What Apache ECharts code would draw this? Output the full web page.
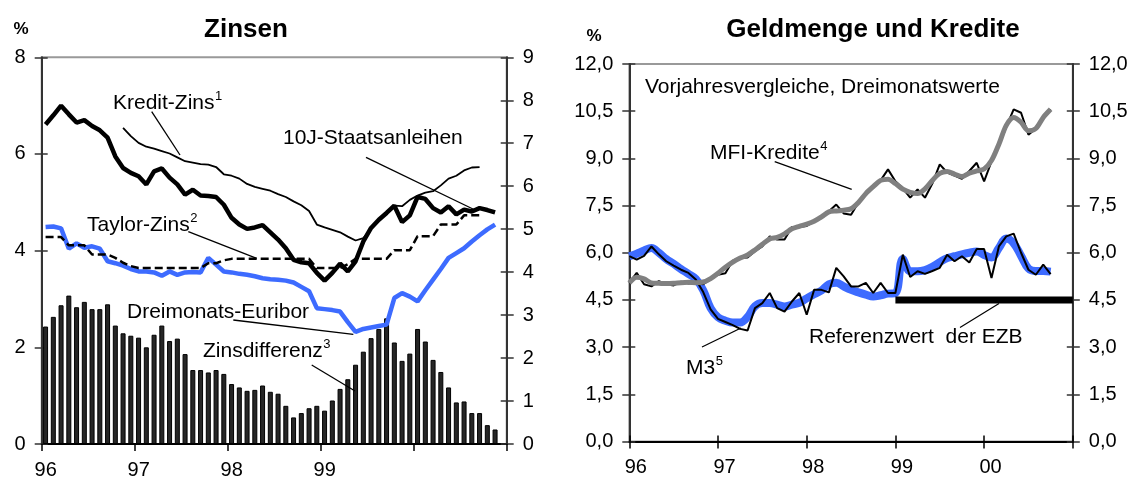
<!DOCTYPE html>
<html>
<head>
<meta charset="utf-8">
<script src="https://cdn.jsdelivr.net/npm/echarts@6/dist/echarts.min.js"></script>
<style>
html, body { margin: 0; padding: 0; background: #fff; }
#chart { width: 1141px; height: 483px; }
</style>
</head>
<body>
<div id="chart"></div>
<script>
// Jahresbeschriftung der x-Achsen (Monatsindex 0 = Jan 96, 12 = Jan 97 ...)
const yearsLeft = ['96', '97', '98', '99', '', '']
const yearsRight = ['96', '97', '98', '99', '00', '']

// Zinsen: Monatswerte Jan 96 - Nov 00
const zinsdifferenz = [2.43, 2.63, 2.87, 3.07, 2.83, 2.94, 2.79, 2.79, 2.89, 2.45,
  2.29, 2.24, 2.20, 2.00, 2.26, 2.45, 2.13, 2.18, 1.86, 1.53,
  1.53, 1.48, 1.53, 1.45, 1.24, 1.17, 1.10, 1.12, 1.21, 1.08,
  1.04, 0.79, 0.55, 0.64, 0.74, 0.79, 0.69, 0.90, 1.14, 1.34,
  1.64, 1.91, 2.19, 2.38, 2.60, 2.10, 1.72, 1.87, 2.38, 2.12,
  1.74, 1.49, 1.17, 0.86, 0.88, 0.64, 0.64, 0.39, 0.30]
const staatsanleihen = [6.61, 6.80, 7.00, 6.82, 6.65, 6.70, 6.58, 6.49, 6.34, 5.95,
  5.71, 5.61, 5.54, 5.37, 5.64, 5.70, 5.51, 5.37, 5.16, 5.26,
  5.14, 5.13, 5.11, 4.95, 4.68, 4.54, 4.45, 4.48, 4.53, 4.38,
  4.23, 4.05, 3.81, 3.76, 3.74, 3.54, 3.38, 3.54, 3.73, 3.57,
  3.78, 4.19, 4.47, 4.64, 4.78, 4.93, 4.59, 4.73, 5.11, 5.07,
  4.88, 4.79, 4.92, 4.75, 4.85, 4.81, 4.88, 4.84, 4.79]
const kreditZins = [null, null, null, null, null, null, null, null, null, null,
  6.54, 6.37, 6.23, 6.15, 6.11, 6.06, 6.01, 5.93, 5.85, 5.82,
  5.79, 5.78, 5.73, 5.58, 5.55, 5.49, 5.38, 5.32, 5.28, 5.24,
  5.17, 5.11, 5.02, 4.94, 4.82, 4.54, 4.48, 4.43, 4.38, 4.29,
  4.21, 4.26, 4.45, 4.62, 4.80, 4.93, 4.92, 5.05, 5.14, 5.20,
  5.23, 5.35, 5.49, 5.55, 5.66, 5.72, 5.73, null, null]
const taylorZins = [4.28, 4.28, 4.28, 4.11, 4.11, 4.11, 3.92, 3.92, 3.92, 3.85,
  3.75, 3.68, 3.64, 3.64, 3.64, 3.64, 3.64, 3.64, 3.64, 3.64,
  3.64, 3.74, 3.74, 3.80, 3.83, 3.83, 3.83, 3.83, 3.83, 3.83,
  3.83, 3.83, 3.83, 3.83, 3.83, 3.64, 3.64, 3.64, 3.64, 3.72,
  3.83, 3.83, 3.83, 3.83, 3.83, 4.01, 4.01, 4.01, 4.30, 4.30,
  4.30, 4.54, 4.54, 4.54, 4.73, 4.73, 4.73, null, null]
const euribor = [4.49, 4.50, 4.46, 4.04, 4.15, 4.06, 4.09, 4.04, 3.78, 3.74,
  3.69, 3.62, 3.57, 3.57, 3.55, 3.48, 3.57, 3.50, 3.55, 3.56,
  3.55, 3.85, 3.71, 3.57, 3.55, 3.52, 3.50, 3.47, 3.43, 3.41,
  3.40, 3.38, 3.34, 3.25, 3.16, 2.81, 2.79, 2.77, 2.74, 2.52,
  2.32, 2.38, 2.41, 2.44, 2.47, 3.02, 3.12, 3.05, 2.95, 3.18,
  3.40, 3.62, 3.85, 3.95, 4.05, 4.19, 4.32, 4.44, 4.54]

// Geldmenge und Kredite: Monatswerte Jan 96 - Okt 00
const m3 = [5.89, 5.78, 5.90, 6.20, 5.95, 5.73, 5.59, 5.46, 5.36, 5.15,
  4.75, 4.20, 3.90, 3.80, 3.70, 3.58, 3.53, 4.24, 4.40, 4.72,
  4.24, 4.13, 4.45, 4.72, 4.03, 4.82, 4.82, 4.74, 5.52, 5.25,
  4.93, 4.93, 5.04, 4.72, 5.04, 4.72, 4.72, 5.94, 5.23, 5.41,
  5.33, 5.42, 5.52, 5.94, 5.73, 5.89, 5.69, 6.12, 6.12, 5.20,
  6.20, 6.52, 6.61, 6.00, 5.46, 5.30, 5.62, 5.32]
const m3Glatt = [5.89, 5.97, 6.07, 6.15, 6.00, 5.80, 5.65, 5.48, 5.33, 5.17,
  4.81, 4.24, 3.95, 3.84, 3.78, 3.78, 3.96, 4.30, 4.40, 4.40,
  4.35, 4.29, 4.35, 4.41, 4.55, 4.68, 4.80, 5.00, 5.05, 4.93,
  4.82, 4.74, 4.67, 4.61, 4.65, 4.70, 4.72, 5.80, 5.41, 5.41,
  5.45, 5.55, 5.70, 5.83, 5.89, 5.95, 6.00, 6.04, 5.93, 5.85,
  6.15, 6.45, 6.30, 5.90, 5.50, 5.42, 5.42, 5.40]
const mfiKredite = [5.04, 5.36, 5.00, 4.93, 5.10, 5.00, 4.96, 5.08, 5.02, 5.04,
  5.00, 5.15, 5.30, 5.35, 5.75, 5.84, 5.85, 6.05, 6.20, 6.52,
  6.42, 6.42, 6.82, 6.82, 6.85, 7.00, 7.10, 7.32, 7.53, 7.25,
  7.21, 7.60, 7.85, 8.10, 8.30, 8.65, 8.27, 8.05, 7.75, 8.01,
  7.75, 8.20, 8.81, 8.55, 8.45, 8.35, 8.60, 8.86, 8.27, 8.90,
  9.40, 10.00, 10.56, 10.45, 9.75, 9.95, 10.30, 10.56]
const mfiGlatt = [5.04, 5.22, 5.17, 5.04, 5.03, 5.02, 5.03, 5.05, 5.06, 5.05,
  5.07, 5.18, 5.35, 5.54, 5.70, 5.83, 5.93, 6.09, 6.27, 6.44,
  6.49, 6.60, 6.76, 6.84, 6.91, 7.00, 7.14, 7.30, 7.33, 7.35,
  7.40, 7.60, 7.88, 8.10, 8.30, 8.34, 8.20, 8.02, 7.92, 7.88,
  8.03, 8.30, 8.52, 8.58, 8.50, 8.42, 8.53, 8.60, 8.66, 8.93,
  9.45, 10.05, 10.30, 10.15, 9.88, 9.95, 10.30, 10.56]
// Referenzwert der EZB ab Jan 99
const referenzwert = 4.5
const referenzVon = 36
const referenzBis = 60

const font = "'Liberation Sans', Arial, sans-serif"
const blau = '#3d6bff'

// Monatsmitte (linke Grafik) bzw. Monatsanfang (rechte Grafik)
const mitte = arr => arr.map((v, i) => [i + 0.5, v]).filter(p => p[1] !== null)
const anfang = arr => arr.map((v, i) => [i, v])

const chartObj = echarts.init(document.getElementById('chart'))
const messCtx = document.createElement('canvas').getContext('2d')

function xAchse(grid, labels, pad) {
  return {
    gridIndex: grid, type: 'value', min: 0, max: 60, interval: 12,
    axisLine: { lineStyle: { color: '#000', width: 2 } },
    axisTick: { length: 7, lineStyle: { color: '#000', width: 1.5 } },
    axisLabel: {
      formatter: v => labels[v / 12] || '', margin: 16, padding: [0, 0, 0, pad],
      fontFamily: font, fontSize: 20, color: '#000'
    },
    splitLine: { show: false }
  }
}
function yAchse(grid, pos, max, step, fmt) {
  return {
    gridIndex: grid, type: 'value', position: pos, min: 0, max: max, interval: step,
    axisLine: { show: true, lineStyle: { color: '#333', width: 2 } },
    axisTick: { show: true, length: 7, lineStyle: { color: '#333', width: 1.5 } },
    axisLabel: { formatter: fmt, margin: 16, fontFamily: font, fontSize: 20, color: '#000' },
    splitLine: { show: false }
  }
}
// nur Innen-Striche, damit die Striche die Achse kreuzen
function innenY(grid, pos, max, step) {
  return {
    gridIndex: grid, type: 'value', position: pos, min: 0, max: max, interval: step,
    axisLine: { show: false },
    axisTick: { show: true, inside: true, length: 6, lineStyle: { color: '#333', width: 1.5 } },
    axisLabel: { show: false }, splitLine: { show: false }
  }
}
const komma = v => v.toFixed(1).replace('.', ',')

function textEl(x, y, str, size, bold, align) {
  return {
    type: 'text', x: x, y: y, z: 100,
    style: {
      text: str, fontFamily: font, fontSize: size, fontWeight: bold ? 'bold' : 'normal',
      fill: '#000', align: align || 'left', verticalAlign: 'middle'
    }
  }
}
// Beschriftung mit hochgestellter Fussnote
function text(x, y, main, sup) {
  const els = [textEl(x, y, main, 21)]
  if (sup) {
    messCtx.font = '21px ' + font
    const w = messCtx.measureText(main).width
    els.push(textEl(x + w + 0.5, y - 7, sup, 13))
  }
  return els
}
function linie(x1, y1, x2, y2) {
  return { type: 'line', z: 100, shape: { x1, y1, x2, y2 }, style: { stroke: '#000', lineWidth: 1.3 } }
}

const option = {
  animation: false,
  backgroundColor: '#fff',
  grid: [
    { left: 41.7, top: 57.3, width: 465, height: 386.7, show: true, borderColor: '#999', borderWidth: 2 },
    { left: 629.3, top: 64, width: 443.5, height: 377.5, show: true, borderColor: '#999', borderWidth: 2 },
    { left: 41.7, top: 57.3, width: 465, height: 386.7 },
    { left: 629.3, top: 64, width: 443.5, height: 377.5 }
  ],
  xAxis: [
    xAchse(0, yearsLeft, 8),
    xAchse(1, yearsRight, 13),
    { gridIndex: 2, type: 'value', min: 0, max: 60, show: false },
    {
      gridIndex: 3, type: 'value', min: 0, max: 60, interval: 12,
      axisLine: { show: false },
      axisTick: { show: true, inside: true, length: 6, lineStyle: { color: '#000', width: 1.5 } },
      axisLabel: { show: false }, splitLine: { show: false }
    }
  ],
  yAxis: [
    yAchse(0, 'left', 8, 2, v => v),
    yAchse(0, 'right', 9, 1, v => v),
    innenY(2, 'left', 8, 2),
    innenY(2, 'right', 9, 1),
    yAchse(1, 'left', 12, 1.5, komma),
    yAchse(1, 'right', 12, 1.5, komma),
    innenY(3, 'left', 12, 1.5),
    innenY(3, 'right', 12, 1.5)
  ],
  series: [
    {
      name: 'Zinsdifferenz', type: 'bar', xAxisIndex: 0, yAxisIndex: 0, barWidth: 5,
      itemStyle: { color: '#262626', borderColor: '#000', borderWidth: 1 },
      data: mitte(zinsdifferenz)
    },
    {
      name: 'Dreimonats-Euribor', type: 'line', xAxisIndex: 0, yAxisIndex: 0, symbol: 'none',
      lineStyle: { color: blau, width: 4.5 }, data: mitte(euribor)
    },
    {
      name: 'Kredit-Zins', type: 'line', xAxisIndex: 0, yAxisIndex: 0, symbol: 'none',
      lineStyle: { color: '#000', width: 1.8 }, data: mitte(kreditZins)
    },
    {
      name: 'Taylor-Zins', type: 'line', xAxisIndex: 0, yAxisIndex: 0, symbol: 'none',
      lineStyle: { color: '#000', width: 2.5, type: [8, 4] }, data: mitte(taylorZins)
    },
    {
      name: '10J-Staatsanleihen', type: 'line', xAxisIndex: 0, yAxisIndex: 0, symbol: 'none',
      lineStyle: { color: '#000', width: 4.5 }, data: mitte(staatsanleihen)
    },
    {
      name: 'M3 geglättet', type: 'line', xAxisIndex: 1, yAxisIndex: 4, symbol: 'none', smooth: 0.4,
      lineStyle: { color: blau, width: 8 }, data: anfang(m3Glatt)
    },
    {
      name: 'M3', type: 'line', xAxisIndex: 1, yAxisIndex: 4, symbol: 'none',
      lineStyle: { color: '#000', width: 2 }, data: anfang(m3)
    },
    {
      name: 'MFI-Kredite', type: 'line', xAxisIndex: 1, yAxisIndex: 4, symbol: 'none',
      lineStyle: { color: '#000', width: 2 }, data: anfang(mfiKredite)
    },
    {
      name: 'MFI-Kredite geglättet', type: 'line', xAxisIndex: 1, yAxisIndex: 4, symbol: 'none', smooth: 0.3,
      lineStyle: { color: '#808080', width: 5 }, data: anfang(mfiGlatt)
    },
    {
      name: 'Referenzwert der EZB', type: 'line', xAxisIndex: 1, yAxisIndex: 4, symbol: 'none',
      lineStyle: { color: '#000', width: 7, cap: 'butt' },
      data: [[referenzVon, referenzwert], [referenzBis, referenzwert]]
    }
  ],
  graphic: [
    // Titel
    textEl(21, 29, '%', 17, true, 'center'),
    textEl(246, 30, 'Zinsen', 26, true, 'center'),
    textEl(594, 36, '%', 17, true, 'center'),
    textEl(873, 30, 'Geldmenge und Kredite', 26, true, 'center'),
    // Beschriftungen links
    ...text(113, 103, 'Kredit-Zins', '1'),
    linie(151.7, 111.7, 180, 155),
    ...text(283, 138, '10J-Staatsanleihen'),
    linie(366, 157.3, 475, 210),
    ...text(87, 225, 'Taylor-Zins', '2'),
    linie(188.3, 231.7, 256.7, 258.3),
    ...text(127, 312, 'Dreimonats-Euribor'),
    linie(233.3, 320, 353.3, 334.3),
    ...text(203, 351, 'Zinsdifferenz', '3'),
    linie(311.7, 365, 355, 391),
    // Beschriftungen rechts
    ...text(645, 87.5, 'Vorjahresvergleiche, Dreimonatswerte'),
    ...text(710, 153, 'MFI-Kredite', '4'),
    linie(774.7, 161.7, 851.7, 189.3),
    ...text(686, 368, 'M3', '5'),
    linie(702, 347, 741, 328),
    ...text(809, 337.5, 'Referenzwert  der EZB'),
    linie(960, 327.5, 999, 303.5)
  ]
}
chartObj.setOption(option)
</script>
</body>
</html>
